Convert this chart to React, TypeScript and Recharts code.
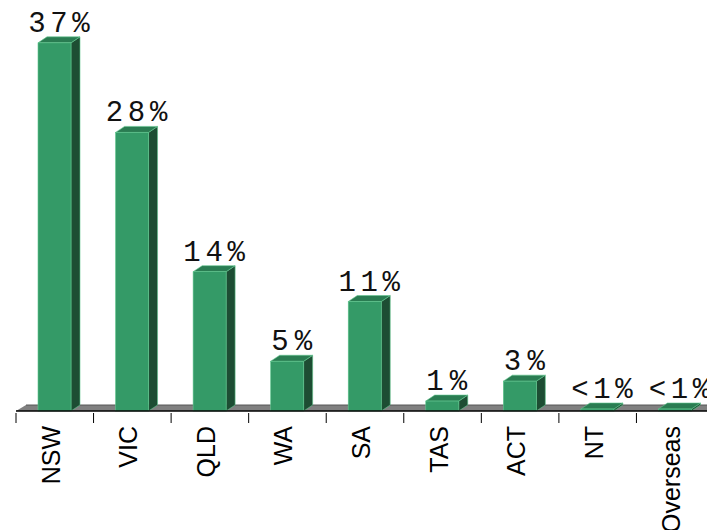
import { BarChart, Bar, XAxis, YAxis, ReferenceArea } from 'recharts';

const states = ['NSW', 'VIC', 'QLD', 'WA', 'SA', 'TAS', 'ACT', 'NT', 'Overseas'];
const shares = [37, 28, 14, 5, 11, 1, 3, 0.2, 0.2];
const shareLabels = ['37%', '28%', '14%', '5%', '11%', '1%', '3%', '<1%', '<1%'];

const data = states.map((s, i) => ({ state: s, share: shares[i], label: shareLabels[i] }));

const DEPTH_X = 9;
const DEPTH_Y = 6;

function Bar3D(props: any) {
    const { x, y, width, height, payload } = props;
    const right = x + width;
    const bottom = y + height;
    const txt: string = payload.label;
    return (
        <g>
            {/* side */}
            <polygon
                points={`${right},${y} ${right + DEPTH_X},${y - DEPTH_Y} ${right + DEPTH_X},${bottom - DEPTH_Y} ${right},${bottom}`}
                fill="#1d4d33"
                stroke="#5fc68d"
                strokeWidth={0.6}
            />
            {/* top */}
            <polygon
                points={`${x},${y} ${x + DEPTH_X},${y - DEPTH_Y} ${right + DEPTH_X},${y - DEPTH_Y} ${right},${y}`}
                fill="#2a7c52"
                stroke="#5fc68d"
                strokeWidth={0.6}
            />
            {/* front */}
            <rect x={x} y={y} width={width} height={height} fill="#349a67" stroke="#5fc68d" strokeWidth={0.6} />
            <text
                x={x + width / 2 + DEPTH_X / 2}
                y={y - 11}
                textAnchor="middle"
                fontFamily="'Liberation Mono', monospace"
                fontSize={29}
                fill="#111"
                textLength={txt.length * 20.5}
                lengthAdjust="spacing"
            >
                {txt}
            </text>
        </g>
    );
}

function Floor(props: any) {
    const { x, y, width, height } = props;
    const b = y + height;
    return (
        <g>
            <polygon
                points={`${x},${b} ${x + 10},${y} ${x + width + 10},${y} ${x + width},${b}`}
                fill="#808080"
            />
            <line x1={x + 10} y1={y} x2={x + width + 10} y2={y} stroke="#555" strokeWidth={1} />
        </g>
    );
}

function StateTick(props: any) {
    const { x, y, payload } = props;
    const half = 77.55 / 2;
    return (
        <g>
            <line x1={x - half} y1={y - 8} x2={x - half} y2={y + 2} stroke="#000" strokeWidth={1} />
            <text
                transform={`translate(${x + 5},${y + 5}) rotate(-90)`}
                textAnchor="end"
                fontFamily="'Liberation Sans', Arial, sans-serif"
                fontSize={25}
                fill="#000"
            >
                {payload.value}
            </text>
        </g>
    );
}

export default function App() {
    return (
        <div style={{ position: 'absolute', left: 0, top: 0, width: 707, height: 530, overflow: 'hidden', background: '#fff' }}>
            <BarChart
                width={714}
                height={530}
                data={data}
                margin={{ top: 13, right: 0, left: 16, bottom: 0 }}
                barCategoryGap={0}
            >
                <YAxis hide domain={[0, 40]} />
                <XAxis
                    dataKey="state"
                    interval={0}
                    height={119}
                    tickLine={false}
                    axisLine={{ stroke: '#000', strokeWidth: 1.5 }}
                    tick={<StateTick />}
                    tickSize={8}
                />
                <ReferenceArea y1={0} y2={0.6} shape={<Floor />} />
                <Bar dataKey="share" barSize={33} shape={<Bar3D />} isAnimationActive={false} />
            </BarChart>
        </div>
    );
}
